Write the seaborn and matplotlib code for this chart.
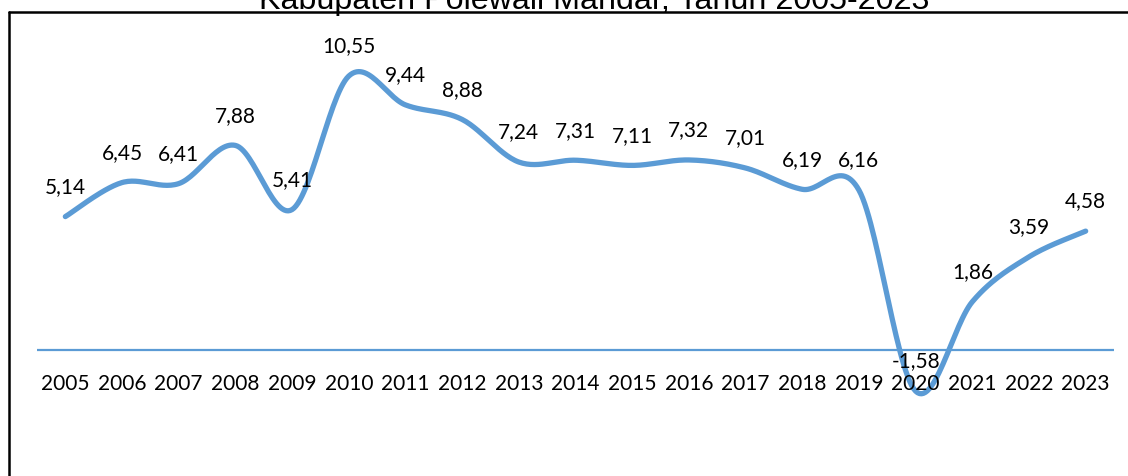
import numpy as np
import matplotlib
matplotlib.use("Agg")
import matplotlib.pyplot as plt
from matplotlib.lines import Line2D
import seaborn as sns

# [Data]
years = ["2005", "2006", "2007", "2008", "2009", "2010", "2011", "2012", "2013", "2014",
         "2015", "2016", "2017", "2018", "2019", "2020", "2021", "2022", "2023"]
growth = [5.14, 6.45, 6.41, 7.88, 5.41, 10.55, 9.44, 8.88, 7.24, 7.31,
          7.11, 7.32, 7.01, 6.19, 6.16, -1.58, 1.86, 3.59, 4.58]
title = "Kabupaten Polewali Mandar, Tahun 2005-2023"

LINE_BLUE = "#5B9BD5"


# [Excel-like smoothed line (Catmull-Rom bezier through the data points)]
def smooth_curve(x, y, steps=30):
    x = np.asarray(x, dtype=float)
    y = np.asarray(y, dtype=float)
    px = np.concatenate([[x[0]], x, [x[-1]]])
    py = np.concatenate([[y[0]], y, [y[-1]]])
    out_x, out_y = [], []
    t = np.linspace(0, 1, steps)
    for i in range(1, len(px) - 2):
        p0x, p1x, p2x, p3x = px[i], px[i] + (px[i + 1] - px[i - 1]) / 6, px[i + 1] - (px[i + 2] - px[i]) / 6, px[i + 1]
        p0y, p1y, p2y, p3y = py[i], py[i] + (py[i + 1] - py[i - 1]) / 6, py[i + 1] - (py[i + 2] - py[i]) / 6, py[i + 1]
        bx = (1 - t) ** 3 * p0x + 3 * (1 - t) ** 2 * t * p1x + 3 * (1 - t) * t ** 2 * p2x + t ** 3 * p3x
        by = (1 - t) ** 3 * p0y + 3 * (1 - t) ** 2 * t * p1y + 3 * (1 - t) * t ** 2 * p2y + t ** 3 * p3y
        out_x.extend(bx)
        out_y.extend(by)
    return np.array(out_x), np.array(out_y)


sns.set_theme(style="white")
plt.rcParams["font.family"] = ["Lato", "DejaVu Sans"]

W, H = 1128, 477
fig = plt.figure(figsize=(W / 100, H / 100), dpi=100)
ax = fig.add_axes([37 / W, 1 - 442 / H, (1114 - 37) / W, 400 / H])

pos = np.arange(len(years))
sx, sy = smooth_curve(pos, growth)
sns.lineplot(x=sx, y=sy, sort=False, color=LINE_BLUE, linewidth=3.8, ax=ax,
             solid_capstyle="round", solid_joinstyle="round")
ax.axhline(0, color=LINE_BLUE, linewidth=1.6, zorder=1)

for i, v in enumerate(growth):
    ax.annotate(f"{v:.2f}".replace(".", ","), (i, v), xytext=(0, 22), textcoords="offset points",
                ha="center", va="center", fontsize=15, color="black")

ax.set_xlim(-0.5, len(years) - 0.5)
ax.set_ylim(-3.5, 11.9)
ax.set_xticks(pos)
ax.set_xticklabels([])
ax.set_yticks([])
for i, yr in enumerate(years):
    ax.text(i, -1.25, yr, ha="center", va="center", fontsize=15, color="black")
for s in ax.spines.values():
    s.set_visible(False)
ax.grid(False)

# outer frame (cropped chart border) and cropped title
fig.add_artist(Line2D([9 / W, 9 / W], [0, 1 - 12.5 / H], transform=fig.transFigure,
                      color="black", linewidth=1.8))
fig.add_artist(Line2D([9 / W, 1.0], [1 - 12.5 / H, 1 - 12.5 / H], transform=fig.transFigure,
                      color="black", linewidth=1.8))
fig.text(594 / W, 1 - 9 / H, title, ha="center", va="baseline", fontsize=23.2,
         family=["Liberation Sans", "DejaVu Sans"], color="black")

fig.savefig("out.png", dpi=100, facecolor="white")
